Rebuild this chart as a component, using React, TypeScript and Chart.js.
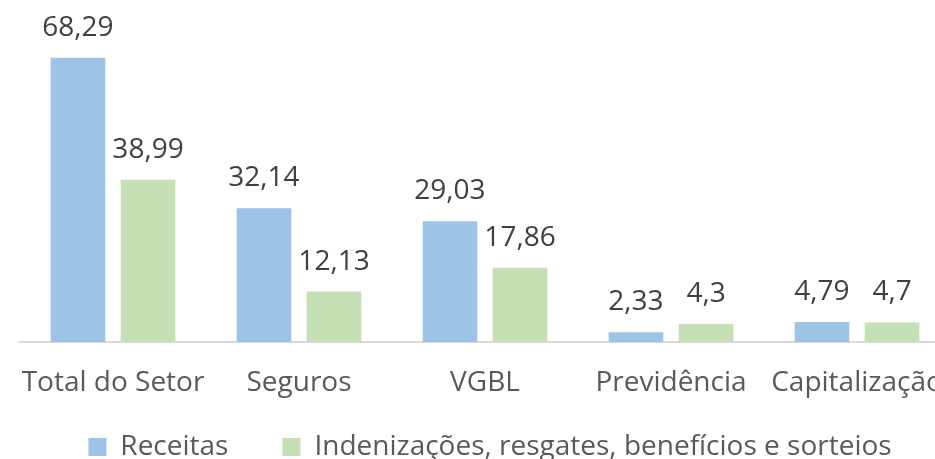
import React, { useEffect, useRef } from "react";
import { Chart, registerables } from "chart.js";

Chart.register(...registerables);

const categories = ["Total do Setor", "Seguros", "VGBL", "Previdência", "Capitalização"];
const receitas = [68.29, 32.14, 29.03, 2.33, 4.79];
const indenizacoes = [38.99, 12.13, 17.86, 4.3, 4.7];
const seriesNames = ["Receitas", "Indenizações, resgates, benefícios e sorteios"];

const FONT = "'Open Sans', sans-serif";

const valueLabels = {
  id: "valueLabels",
  afterDatasetsDraw(chart: any) {
    const ctx = chart.ctx;
    ctx.save();
    ctx.font = `28px ${FONT}`;
    ctx.fillStyle = "#404040";
    ctx.textAlign = "center";
    ctx.textBaseline = "alphabetic";
    chart.data.datasets.forEach((ds: any, di: number) => {
      const meta = chart.getDatasetMeta(di);
      meta.data.forEach((el: any, i: number) => {
        const txt = String(ds.data[i]).replace(".", ",");
        ctx.fillText(txt, el.x, el.y - 22);
      });
    });
    ctx.restore();
  },
};

// nudge the legend up/right so it sits close under the category labels
const legendNudge = {
  id: "legendNudge",
  afterLayout(chart: any) {
    const lg = chart.legend;
    if (!lg) return;
    lg.top -= 45;
    lg.bottom -= 45;
    lg.left += 5;
    lg.right += 5;
  },
};

export default function App() {
  const ref = useRef<HTMLCanvasElement | null>(null);
  useEffect(() => {
    if (!ref.current) return;
    const chart = new Chart(ref.current, {
      type: "bar",
      data: {
        labels: categories,
        datasets: [
          {
            label: seriesNames[0],
            data: receitas,
            backgroundColor: "#9DC3E6",
            categoryPercentage: 0.753,
            barPercentage: 0.78,
          },
          {
            label: seriesNames[1],
            data: indenizacoes,
            backgroundColor: "#C5E0B4",
            categoryPercentage: 0.753,
            barPercentage: 0.78,
          },
        ],
      },
      options: {
        animation: false,
        responsive: false,
        maintainAspectRatio: false,
        layout: { padding: { left: 20, right: 10, top: 9, bottom: 0 } },
        plugins: {
          tooltip: { enabled: false },
          legend: {
            position: "bottom",
            labels: {
              font: { family: FONT, size: 28 },
              color: "#595959",
              boxWidth: 18,
              boxHeight: 18,
              padding: 54,
            },
          },
        },
        scales: {
          x: {
            grid: { display: false, drawTicks: false },
            border: { display: true, color: "#d9d9d9", width: 2 },
            ticks: {
              font: { family: FONT, size: 28, lineHeight: 82 / 28 },
              color: "#595959",
              padding: 0,
              maxRotation: 0,
              autoSkip: false,
            },
          },
          y: {
            display: false,
            min: 0,
            max: 80,
          },
        },
      },
      plugins: [valueLabels, legendNudge],
    });
    return () => chart.destroy();
  }, []);
  return (
    <div style={{ position: "absolute", left: 0, top: 0, width: 935, height: 459, overflow: "hidden", background: "#fff" }}>
      <canvas ref={ref} width={960} height={516} style={{ display: "block", width: 960, height: 516 }} />
    </div>
  );
}
